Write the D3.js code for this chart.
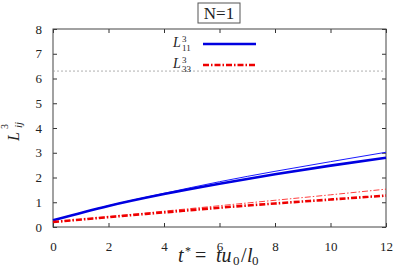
<!DOCTYPE html>
<html>
<head>
<meta charset="utf-8">
<script src="https://cdn.jsdelivr.net/npm/d3@7"></script>
<style>
  body { margin: 0; background: #fff; }
</style>
</head>
<body>
<div id="chart"></div>
<script>
// time values t* and the four curves
const tValues = [0, 2, 4, 6, 8, 10, 12];
const l11Thick = [0.27, 0.85, 1.33, 1.75, 2.13, 2.48, 2.80];
const l11Thin = [0.27, 0.86, 1.36, 1.83, 2.25, 2.64, 3.02];
const l33Thick = [0.20, 0.40, 0.59, 0.78, 0.95, 1.11, 1.27];
const l33Thin = [0.20, 0.42, 0.64, 0.86, 1.08, 1.30, 1.53];
const refLevel = 6.3;
const xTicks = [0, 2, 4, 6, 8, 10, 12];
const yTicks = [0, 1, 2, 3, 4, 5, 6, 7, 8];

const FONT = "'Liberation Serif', 'Times New Roman', 'DejaVu Serif', serif";

const w = 394, h = 273;
const m = { top: 29, right: 8, bottom: 46, left: 53 };
const iW = w - m.left - m.right;
const iH = h - m.top - m.bottom;

const svg = d3.select("#chart").append("svg")
  .attr("width", w).attr("height", h)
  .attr("font-family", FONT);
const g = svg.append("g").attr("transform", `translate(${m.left},${m.top})`);

const x = d3.scaleLinear().domain([0, 12]).range([0, iW]);
const y = d3.scaleLinear().domain([0, 8]).range([iH, 0]);

// axes, ticks pointing inwards, mirrored on top/right
const tickLen = 4;
g.append("g").attr("transform", `translate(0,${iH})`)
  .call(d3.axisBottom(x).tickValues(xTicks).tickSizeInner(-tickLen).tickSizeOuter(0).tickPadding(15));
g.append("g")
  .call(d3.axisTop(x).tickValues(xTicks).tickSizeInner(-tickLen).tickSizeOuter(0).tickFormat(""));
g.append("g")
  .call(d3.axisLeft(y).tickValues(yTicks).tickSizeInner(-tickLen).tickSizeOuter(0).tickPadding(11));
g.append("g").attr("transform", `translate(${iW},0)`)
  .call(d3.axisRight(y).tickValues(yTicks).tickSizeInner(-tickLen).tickSizeOuter(0).tickFormat(""));

g.selectAll("g").attr("font-family", FONT);
g.selectAll(".domain").remove();
g.selectAll(".tick line").attr("stroke", "#333");
g.selectAll(".tick text").attr("font-size", 13).attr("fill", "#222");
g.append("rect").attr("width", iW).attr("height", iH)
  .attr("fill", "none").attr("stroke", "#444").attr("stroke-width", 1);

// reference dashed line
g.append("line")
  .attr("x1", 0).attr("x2", iW)
  .attr("y1", y(refLevel)).attr("y2", y(refLevel))
  .attr("stroke", "#999").attr("stroke-width", 0.8).attr("stroke-dasharray", "2,2");

const line = d3.line().x((d, i) => x(tValues[i])).y(d => y(d)).curve(d3.curveMonotoneX);

const series = [
  { vals: l11Thin, color: "#1a1aff", width: 1, dash: null },
  { vals: l11Thick, color: "#0000e0", width: 2.6, dash: null },
  { vals: l33Thin, color: "#ff2a2a", width: 0.9, dash: "6,2,1.5,2" },
  { vals: l33Thick, color: "#ee0000", width: 2.6, dash: "6,2,1.5,2" }
];
series.forEach(s => {
  g.append("path").datum(s.vals)
    .attr("d", line)
    .attr("fill", "none")
    .attr("stroke", s.color)
    .attr("stroke-width", s.width)
    .attr("stroke-dasharray", s.dash);
});

// legend
const legend = [
  { sub: "11", color: "#0000e0", dash: null, yy: 44 },
  { sub: "33", color: "#ee0000", dash: "6,2,1.5,2", yy: 65 }
];
legend.forEach(l => {
  svg.append("text").attr("x", 173).attr("y", l.yy + 3)
    .attr("font-size", 14).attr("font-style", "italic").attr("fill", "#222").text("L");
  svg.append("text").attr("x", 182).attr("y", l.yy - 2)
    .attr("font-size", 9).attr("fill", "#222").text("3");
  svg.append("text").attr("x", 182).attr("y", l.yy + 7)
    .attr("font-size", 9).attr("fill", "#222").text(l.sub);
  svg.append("line").attr("x1", 203).attr("x2", 256).attr("y1", l.yy).attr("y2", l.yy)
    .attr("stroke", l.color).attr("stroke-width", 2.6).attr("stroke-dasharray", l.dash);
});

// title box
svg.append("rect").attr("x", 198).attr("y", 3).attr("width", 42).attr("height", 20)
  .attr("fill", "#fff").attr("stroke", "#555").attr("stroke-width", 1);
svg.append("text").attr("x", 219).attr("y", 19).attr("text-anchor", "middle")
  .attr("font-size", 17).attr("fill", "#222").text("N=1");

// y label (rotated)
const yl = svg.append("g").attr("transform", "translate(19,141) rotate(-90)");
yl.append("text").attr("x", 0).attr("y", 0).attr("font-size", 16)
  .attr("font-style", "italic").attr("fill", "#222").text("L");
yl.append("text").attr("x", 12).attr("y", -11).attr("font-size", 10).attr("fill", "#222").text("3");
yl.append("text").attr("x", 13).attr("y", 3).attr("font-size", 11)
  .attr("font-style", "italic").attr("fill", "#222").text("ij");

// x label, pieces placed one by one
const xParts = [
  { t: "t", x: 178, dy: 0, size: 20, it: true },
  { t: "*", x: 185, dy: -7, size: 12, it: false },
  { t: "=", x: 195, dy: 0, size: 20, it: false },
  { t: "tu", x: 216, dy: 0, size: 20, it: true },
  { t: "0", x: 233, dy: 3, size: 13, it: false },
  { t: "/", x: 241, dy: 0, size: 20, it: false },
  { t: "l", x: 247, dy: 0, size: 20, it: true },
  { t: "0", x: 252, dy: 3, size: 13, it: false }
];
xParts.forEach(p => {
  svg.append("text").attr("x", p.x).attr("y", 262 + p.dy)
    .attr("font-size", p.size).attr("font-style", p.it ? "italic" : null)
    .attr("fill", "#222").text(p.t);
});
</script>
</body>
</html>
